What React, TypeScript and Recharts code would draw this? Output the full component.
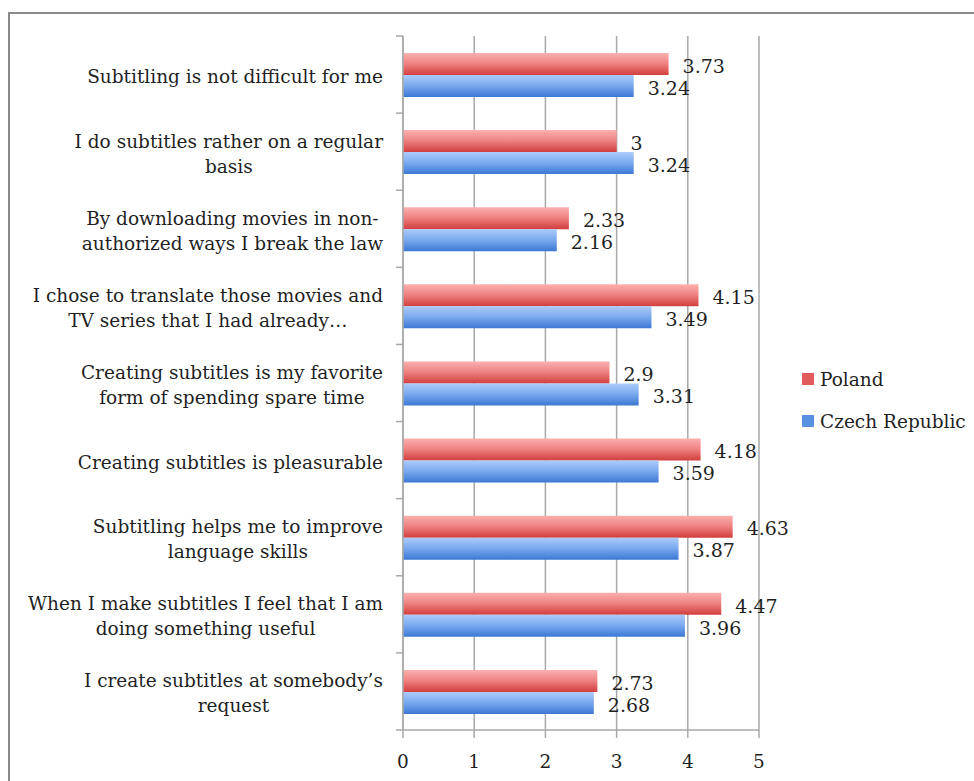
import React from "react";
import {
  BarChart,
  Bar,
  XAxis,
  YAxis,
  CartesianGrid,
  Legend,
  LabelList,
} from "recharts";

const categories = [
  "Subtitling is not difficult for me",
  "I do subtitles rather on a regular\nbasis",
  "By downloading movies in non-\nauthorized ways I break the law",
  "I chose to translate those movies and\nTV series that I had already…",
  "Creating subtitles is my favorite\nform of spending spare time",
  "Creating subtitles is pleasurable",
  "Subtitling helps me to improve\nlanguage skills",
  "When I make subtitles I feel that I am\ndoing something useful",
  "I create subtitles at somebody’s\nrequest",
];

const seriesNames = ["Poland", "Czech Republic"];
const poland = [3.73, 3, 2.33, 4.15, 2.9, 4.18, 4.63, 4.47, 2.73];
const czech = [3.24, 3.24, 2.16, 3.49, 3.31, 3.59, 3.87, 3.96, 2.68];

const xTicks = [0, 1, 2, 3, 4, 5];

const data = categories.map((name, i) => ({
  name,
  poland: poland[i],
  czech: czech[i],
}));

const FONT = "'DejaVu Serif', serif";
const LABEL_SIZE = 18.5;
const VALUE_SIZE = 19;
const TEXT = "#1f1f1f";
const GRID = "#a8a8a8";
const SWATCH: Record<string, string> = {
  Poland: "#e35a5c",
  "Czech Republic": "#5a90e0",
};

let ctx: CanvasRenderingContext2D | null = null;
const measure = (s: string) => {
  if (!ctx) ctx = document.createElement("canvas").getContext("2d");
  if (!ctx) return s.length * 9;
  ctx.font = `${LABEL_SIZE}px ${FONT}`;
  return ctx.measureText(s).width;
};

// category label: lines centred inside a right-aligned block, plus a tick at the band's top edge
const CategoryTick = (props: any) => {
  const { x, y, payload, index, visibleTicksCount } = props;
  const lines: string[] = String(payload.value).split("\n");
  const half = payload.offset ?? 0;
  const right = x - 12;
  const blockW = Math.max(...lines.map(measure));
  const cx = right - blockW / 2;
  const lh = 25;
  const startY = y + 2 - ((lines.length - 1) * lh) / 2;
  const axisX = x + 8;
  return (
    <g>
      <line x1={axisX - 7} x2={axisX} y1={y - half} y2={y - half} stroke={GRID} strokeWidth={1.5} />
      {index === visibleTicksCount - 1 && (
        <line x1={axisX - 7} x2={axisX} y1={y + half} y2={y + half} stroke={GRID} strokeWidth={1.5} />
      )}
      {lines.map((ln, k) => (
        <text
          key={k}
          x={cx}
          y={startY + k * lh}
          textAnchor="middle"
          dominantBaseline="central"
          fontFamily={FONT}
          fontSize={LABEL_SIZE}
          fill={TEXT}
        >
          {ln}
        </text>
      ))}
    </g>
  );
};

const LegendContent = () => (
  <div style={{ fontFamily: FONT, fontSize: 18.5, color: TEXT }}>
    {seriesNames.map((name) => (
      <div key={name} style={{ display: "flex", alignItems: "center", height: 42 }}>
        <span
          style={{
            display: "inline-block",
            width: 12,
            height: 12,
            marginRight: 6,
            background: SWATCH[name],
          }}
        />
        {name}
      </div>
    ))}
  </div>
);

export default function App() {
  return (
    <div
      style={{
        position: "absolute",
        left: 0,
        top: 0,
        width: 974,
        height: 781,
        overflow: "hidden",
        background: "#fff",
      }}
    >
      <div
        style={{
          position: "absolute",
          left: 8,
          top: 12,
          width: 1000,
          height: 800,
          border: "2px solid #8a8a8a",
        }}
      />
      <div style={{ position: "absolute", left: 0, top: 0 }}>
        <BarChart
          width={974}
          height={781}
          data={data}
          layout="vertical"
          margin={{ top: 36, right: 215, bottom: 21, left: 0 }}
          barSize={22}
          barGap={0}
        >
          <defs>
            <linearGradient id="gradRed" x1="0" y1="0" x2="0" y2="1">
              <stop offset="0%" stopColor="#fbb0b0" />
              <stop offset="45%" stopColor="#f08585" />
              <stop offset="100%" stopColor="#d23e3e" />
            </linearGradient>
            <linearGradient id="gradBlue" x1="0" y1="0" x2="0" y2="1">
              <stop offset="0%" stopColor="#abcbfa" />
              <stop offset="45%" stopColor="#7eacf0" />
              <stop offset="100%" stopColor="#3c78d4" />
            </linearGradient>
          </defs>
          <CartesianGrid horizontal={false} stroke={GRID} strokeWidth={1.5} />
          <XAxis
            type="number"
            domain={[0, 5]}
            ticks={xTicks}
            height={30}
            axisLine={{ stroke: GRID, strokeWidth: 1.5 }}
            tickLine={{ stroke: GRID, strokeWidth: 1.5 }}
            tickSize={8}
            tick={{ fontFamily: FONT, fontSize: 18.5, fill: TEXT, dy: 15 }}
          />
          <YAxis
            type="category"
            dataKey="name"
            width={403}
            axisLine={{ stroke: GRID, strokeWidth: 1.5 }}
            tickLine={false}
            tick={<CategoryTick />}
            interval={0}
          />
          <Legend
            layout="vertical"
            align="center"
            verticalAlign="middle"
            content={<LegendContent />}
            wrapperStyle={{ left: 802, top: 358, width: 172 }}
          />
          <Bar dataKey="poland" name="Poland" fill="url(#gradRed)" isAnimationActive={false}>
            <LabelList
              dataKey="poland"
              position="right"
              offset={14}
              dy={2}
              style={{ fontFamily: FONT, fontSize: VALUE_SIZE, fill: TEXT }}
            />
          </Bar>
          <Bar dataKey="czech" name="Czech Republic" fill="url(#gradBlue)" isAnimationActive={false}>
            <LabelList
              dataKey="czech"
              position="right"
              offset={14}
              dy={2}
              style={{ fontFamily: FONT, fontSize: VALUE_SIZE, fill: TEXT }}
            />
          </Bar>
        </BarChart>
      </div>
    </div>
  );
}
